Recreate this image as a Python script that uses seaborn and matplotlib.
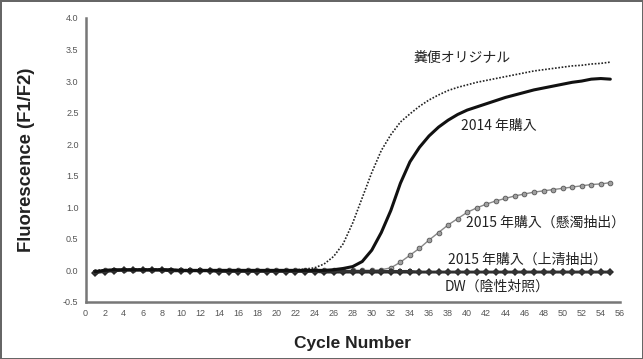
import numpy as np
import pandas as pd
import matplotlib
matplotlib.use("Agg")
import matplotlib.pyplot as plt
import seaborn as sns

cycles = list(range(1, 56))

feces_original = [0.00, 0.01, 0.01, 0.01, 0.02, 0.02, 0.02, 0.02, 0.01, 0.01,
                  0.01, 0.00, 0.00, 0.00, 0.00, 0.00, 0.00, 0.00, 0.00, 0.00,
                  0.00, 0.01, 0.02, 0.04, 0.10, 0.22, 0.42, 0.75, 1.15, 1.55,
                  1.90, 2.15, 2.35, 2.48, 2.60, 2.70, 2.78, 2.85, 2.90, 2.94,
                  2.98, 3.01, 3.04, 3.07, 3.10, 3.13, 3.16, 3.18, 3.20, 3.22,
                  3.24, 3.25, 3.27, 3.28, 3.30]

bought_2014 = [-0.02, 0.00, 0.01, 0.01, 0.01, 0.01, 0.01, 0.01, 0.01, 0.00,
               0.00, 0.00, 0.00, 0.00, 0.00, 0.00, 0.00, 0.00, 0.00, 0.00,
               0.00, 0.00, 0.00, 0.00, 0.00, 0.01, 0.03, 0.06, 0.14, 0.32,
               0.60, 0.95, 1.38, 1.72, 1.95, 2.13, 2.27, 2.38, 2.47, 2.54,
               2.59, 2.64, 2.69, 2.74, 2.78, 2.82, 2.86, 2.89, 2.92, 2.95,
               2.98, 3.00, 3.03, 3.04, 3.03]

bought_2015_susp = [-0.02, 0.00, 0.00, 0.01, 0.01, 0.01, 0.01, 0.01, 0.00, 0.00,
                    0.00, 0.00, 0.00, 0.00, 0.00, 0.00, 0.00, 0.00, 0.00, 0.00,
                    0.00, 0.00, 0.00, 0.00, 0.00, 0.00, 0.00, 0.00, 0.00, 0.00,
                    0.01, 0.04, 0.13, 0.24, 0.35, 0.48, 0.60, 0.72, 0.82, 0.92,
                    0.99, 1.05, 1.10, 1.14, 1.18, 1.21, 1.24, 1.26, 1.28, 1.30,
                    1.32, 1.34, 1.36, 1.37, 1.39]

bought_2015_super = [-0.03, -0.01, 0.00, 0.01, 0.01, 0.01, 0.01, 0.01, 0.00, 0.00,
                     0.00, 0.00, -0.01, -0.01, -0.01, -0.01, -0.01, -0.01, -0.01, -0.01,
                     -0.01, -0.01, -0.01, -0.01, -0.01, -0.01, -0.01, -0.01, -0.01, -0.01,
                     -0.01, -0.01, -0.01, -0.01, -0.02, -0.02, -0.02, -0.02, -0.02, -0.02,
                     -0.02, -0.02, -0.02, -0.02, -0.02, -0.02, -0.02, -0.02, -0.02, -0.02,
                     -0.02, -0.02, -0.02, -0.02, -0.02]

dw_control = [-0.04, -0.02, -0.01, 0.00, 0.00, 0.00, 0.00, 0.00, -0.01, -0.01,
              -0.01, -0.01, -0.01, -0.02, -0.02, -0.02, -0.02, -0.02, -0.02, -0.02,
              -0.02, -0.02, -0.02, -0.02, -0.03, -0.03, -0.03, -0.03, -0.03, -0.03,
              -0.03, -0.03, -0.03, -0.03, -0.03, -0.03, -0.03, -0.03, -0.03, -0.03,
              -0.03, -0.03, -0.03, -0.03, -0.03, -0.03, -0.03, -0.03, -0.03, -0.03,
              -0.03, -0.03, -0.03, -0.03, -0.03]

labels = ["糞便オリジナル", "2014 年購入", "2015 年購入（懸濁抽出）", "2015 年購入（上清抽出）", "DW（陰性対照）"]
xticks = list(range(0, 57, 2))
yticks = [-0.5, 0.0, 0.5, 1.0, 1.5, 2.0, 2.5, 3.0, 3.5, 4.0]

sns.set_style("white")
plt.rcParams['font.family'] = ['Liberation Sans', 'Noto Sans CJK JP', 'DejaVu Sans']

fig = plt.figure(figsize=(6.43, 3.59), dpi=100)
fig.patch.set_edgecolor("#666666")
fig.patch.set_linewidth(2)
ax = fig.add_axes([0.133, 0.159, 0.831, 0.791])

df_flat1 = pd.DataFrame({"cycle": cycles, "value": dw_control})
df_flat2 = pd.DataFrame({"cycle": cycles, "value": bought_2015_super})
df_susp = pd.DataFrame({"cycle": cycles, "value": bought_2015_susp})
df_2014 = pd.DataFrame({"cycle": cycles, "value": bought_2014})
df_orig = pd.DataFrame({"cycle": cycles, "value": feces_original})

sns.lineplot(data=df_susp, x="cycle", y="value", ax=ax, color="#888888", lw=1.0,
             marker="o", markersize=3.4, markerfacecolor="#a0a0a0",
             markeredgecolor="#555555", markeredgewidth=0.6, zorder=2)
sns.lineplot(data=df_orig, x="cycle", y="value", ax=ax, color="#222222", lw=1.2,
             linestyle=(0, (1, 1)), zorder=2)
sns.lineplot(data=df_flat1, x="cycle", y="value", ax=ax, color="#2a2a2a", lw=1.8,
             marker="D", markersize=3.8, markeredgewidth=0, zorder=3)
sns.lineplot(data=df_flat2, x="cycle", y="value", ax=ax, color="#333333", lw=1.5,
             marker="s", markersize=3.4, markeredgewidth=0, zorder=3)
sns.lineplot(data=df_2014, x="cycle", y="value", ax=ax, color="#111111", lw=2.2, zorder=4)

ax.set_xlim(0, 56)
ax.set_ylim(-0.5, 4.0)
ax.set_xticks(xticks)
ax.set_yticks(yticks)
ax.set_yticklabels([f"{v:.1f}" for v in yticks])
ax.tick_params(axis="both", direction="out", length=3, width=1, color="#777777",
               labelsize=6.5, labelcolor="#555555", pad=2)
for s in ["top", "right"]:
    ax.spines[s].set_visible(False)
for s in ["left", "bottom"]:
    ax.spines[s].set_color("#777777")
    ax.spines[s].set_linewidth(1.8)

ax.set_xlabel("Cycle Number", fontsize=12.5, fontweight="bold", color="#222222", labelpad=13)
ax.set_ylabel("Fluorescence (F1/F2)", fontsize=13.3, fontweight="bold", color="#222222", labelpad=20)

tfam = ['Noto Sans CJK JP', 'DejaVu Sans']
fs = 10
ax.text(39.5, 3.37, labels[0], fontsize=fs, color="#222222", family=tfam, ha="center", va="center")
ax.text(43.3, 2.28, labels[1], fontsize=fs, color="#222222", family=tfam, ha="center", va="center")
ax.text(48.2, 0.75, labels[2], fontsize=fs, color="#222222", family=tfam, ha="center", va="center")
ax.text(46.3, 0.17, labels[3], fontsize=fs, color="#222222", family=tfam, ha="center", va="center")
ax.text(43.1, -0.26, labels[4], fontsize=fs, color="#222222", family=tfam, ha="center", va="center")

fig.savefig("out.png", dpi=100)
